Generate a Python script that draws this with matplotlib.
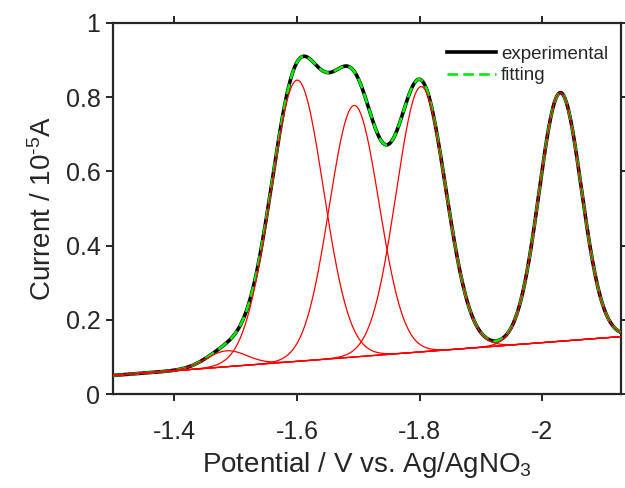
import numpy as np
import matplotlib
matplotlib.use("Agg")
import matplotlib.pyplot as plt

# ---- data ----
potential_range = [-1.30, -2.13]          # V vs. Ag/AgNO3
baseline_ends = [0.050, 0.155]            # baseline current at the two ends (1e-5 A)
peak_centers = [-1.485, -1.600, -1.693, -1.802, -2.029]
peak_heights = [0.043, 0.758, 0.678, 0.715, 0.670]
peak_widths = [0.033, 0.043, 0.0405, 0.0405, 0.0345]
x_ticks = [-1.4, -1.6, -1.8, -2.0]
x_tick_labels = ["-1.4", "-1.6", "-1.8", "-2"]
y_ticks = [0, 0.2, 0.4, 0.6, 0.8, 1.0]
y_tick_labels = ["0", "0.2", "0.4", "0.6", "0.8", "1"]

plt.rcParams['font.family'] = ['Liberation Sans', 'DejaVu Sans']
plt.rcParams['axes.unicode_minus'] = False
plt.rcParams['mathtext.fontset'] = 'custom'
plt.rcParams['mathtext.rm'] = 'Liberation Sans'
plt.rcParams['mathtext.it'] = 'Liberation Sans'

E = np.linspace(potential_range[0], potential_range[1], 800)
base = np.interp(E, [potential_range[1], potential_range[0]], baseline_ends[::-1])
components = [h * np.exp(-(E - c) ** 2 / (2 * w ** 2))
              for c, h, w in zip(peak_centers, peak_heights, peak_widths)]
fit = base + np.sum(components, axis=0)
experimental = fit.copy()

fig = plt.figure(figsize=(6.25, 4.88), dpi=100)
ax = fig.add_axes([0.1808, 0.1926, 0.8128, 0.7603])

ax.plot(E, experimental, color='black', lw=2.6, label='experimental', zorder=2)
ax.plot(E, fit, color='#00ee00', lw=1.9, ls=(0, (4, 2)), label='fitting', zorder=3)
ax.plot(E, base, color='red', lw=0.9, zorder=4)
for comp in components:
    ax.plot(E, base + comp, color='red', lw=0.9, zorder=4)

ax.set_xlim(-1.3, -2.128)
ax.set_ylim(0, 1)
ax.set_xticks(x_ticks)
ax.set_xticklabels(x_tick_labels)
ax.set_yticks(y_ticks)
ax.set_yticklabels(y_tick_labels)

dark = '#262626'
for s in ax.spines.values():
    s.set_linewidth(1.6)
    s.set_color(dark)
ax.tick_params(direction='out', length=5, width=1.4, colors=dark,
               labelsize=18, top=True, right=True, pad=4)
ax.tick_params(axis='x', pad=14)

ax.set_xlabel(r'Potential / V vs. Ag/AgNO$_\mathrm{3}$', fontsize=20, color=dark, labelpad=4)
ax.set_ylabel(r'Current / 10$^{\text{-5}}$A', fontsize=20, color=dark, labelpad=6)

leg = ax.legend(loc='upper right', frameon=False, fontsize=13.5,
                handlelength=2.6, handletextpad=0.25, labelspacing=0.25,
                borderaxespad=0.3, bbox_to_anchor=(1.0, 0.975))
for t in leg.get_texts():
    t.set_color(dark)

fig.savefig('out.png', dpi=100)
